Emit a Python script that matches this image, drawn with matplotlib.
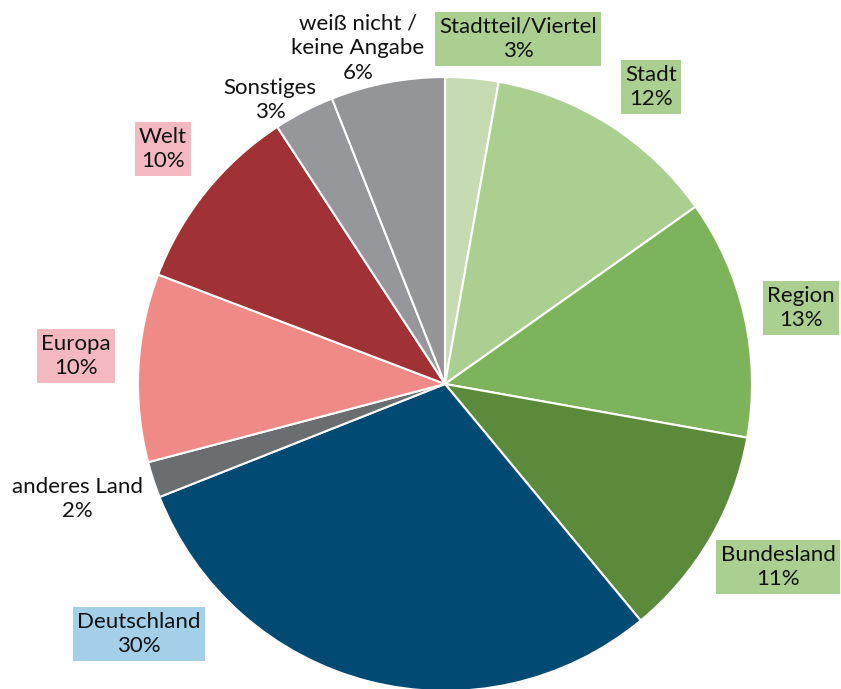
import numpy as np
import matplotlib
matplotlib.use("Agg")
import matplotlib.pyplot as plt

plt.rcParams['font.family'] = ['Lato', 'DejaVu Sans']

# Daten (im Uhrzeigersinn ab 12 Uhr)
labels = ["Stadtteil/Viertel", "Stadt", "Region", "Bundesland", "Deutschland",
          "anderes Land", "Europa", "Welt", "Sonstiges", "weiß nicht /\nkeine Angabe"]
shares = [2.8, 12.4, 12.6, 11.2, 30.0, 1.9, 9.9, 10.0, 3.2, 6.0]
colors = ["#c6dbb2", "#abcf91", "#7db35a", "#5b8a3a", "#004a74",
          "#6b6e70", "#ef8a86", "#a03134", "#95979a", "#939596"]
box_colors = ["#abcf91", "#abcf91", "#abcf91", "#abcf91", "#a3cfe8",
              None, "#f4b9c0", "#f4b9c0", None, None]

# Label-Mittelpunkte in Pixeln (Referenzbild 841x689)
label_px = [(518, 39), (651, 87), (801, 308), (778, 567), (139, 634),
            (77, 499), (76, 356), (163, 149), (270, 100), (358, 48)]

W, H = 841, 689
cx, cy, r = 445, 384, 307

fig = plt.figure(figsize=(W / 100, H / 100), dpi=100)
ax = fig.add_axes([0, 0, 1, 1])
ax.pie(shares, colors=colors, startangle=90, counterclock=False,
       wedgeprops=dict(edgecolor="white", linewidth=1.5))
ax.set_xlim(-cx / r, (W - cx) / r)
ax.set_ylim(-(H - cy) / r, cy / r)
ax.axis("off")

for lab, val, bc, (px, py) in zip(labels, shares, box_colors, label_px):
    x = (px - cx) / r
    y = (cy - py) / r
    txt = f"{lab}\n{val:.0f}%"
    kw = {}
    if bc:
        kw["bbox"] = dict(facecolor=bc, edgecolor="none", boxstyle="square,pad=0.2")
    ax.text(x, y, txt, ha="center", va="center", fontsize=16,
            linespacing=1.3, color="#111111", **kw)

fig.savefig("out.png", dpi=100)
